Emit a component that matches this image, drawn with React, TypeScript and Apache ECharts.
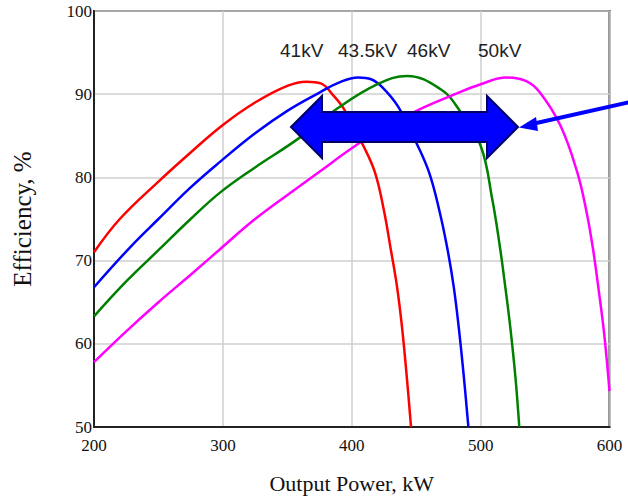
import React, { useEffect, useRef } from "react";
import * as echarts from "echarts";

const seriesNames = ["41kV", "43.5kV", "46kV", "50kV"];
const seriesColors = ["#ff0000", "#0000ff", "#008000", "#ff00ff"];

const red41: [number, number][] = [
  [200, 71], [220, 75], [250, 79.5], [275, 83], [300, 86.3], [325, 89], [350, 91],
  [365, 91.5], [376, 91.3], [386, 89.8], [394, 88.2], [409, 83.8], [418, 80.6],
  [425, 76], [430, 71.6], [435, 67], [439, 62], [443, 55.5], [446, 50],
];
const blue435: [number, number][] = [
  [200, 66.8], [228, 71.6], [250, 75], [275, 78.8], [298, 81.9], [325, 85.3], [350, 88],
  [375, 90.2], [390, 91.4], [405, 92], [415, 91.8], [424, 90.8], [436, 88.5], [450, 84.2],
  [460, 80.6], [468, 76], [474, 71.6], [479, 67], [483, 62], [487, 56], [490.5, 50],
];
const green46: [number, number][] = [
  [200, 63.3], [225, 67.5], [251, 71.4], [275, 75], [298, 78.2], [325, 81.2], [358, 84.6],
  [388, 88.2], [420, 91.2], [443, 92.2], [469, 90.6], [483, 88.2], [500, 83.8], [509, 77.4],
  [515, 71.6], [519, 67], [523, 62], [527, 56], [530, 50],
];
const magenta50: [number, number][] = [
  [200, 57.8], [225, 61.5], [250, 65], [275, 68.3], [298, 71.4], [325, 75], [360, 79],
  [376, 80.8], [400, 83.5], [425, 86], [453, 88.2], [477, 89.8], [500, 91.2], [520, 92],
  [535, 91.6], [546, 90.2], [562, 86.2], [575, 80.6], [582, 76], [587, 71.6], [592, 66],
  [596, 61], [600, 54.3],
];
const allSeries = [red41, blue435, green46, magenta50];

const xAxisTitle = "Output Power, kW";
const yAxisTitle = "Efficiency, %";

export default function App() {
  const ref = useRef<HTMLDivElement>(null);
  useEffect(() => {
    if (!ref.current) return;
    const chart = echarts.init(ref.current, null, { renderer: "svg" });
    const serif = "Liberation Serif";
    const sans = "Liberation Sans";
    const labelXs = [280, 338, 407, 478];
    chart.setOption({
      animation: false,
      backgroundColor: "#ffffff",
      grid: {
        left: 94,
        top: 11,
        width: 515.5,
        height: 416,
        show: true,
        borderColor: "#333333",
        borderWidth: 2,
        backgroundColor: "transparent",
      },
      xAxis: {
        type: "value",
        min: 200,
        max: 600,
        interval: 100,
        axisLine: { show: true, lineStyle: { color: "#222", width: 2 } },
        axisTick: { show: false },
        splitLine: { show: true, lineStyle: { color: "#cfcfcf", width: 1.5 } },
        axisLabel: { fontFamily: serif, fontSize: 17, color: "#111", margin: 10 },
        name: xAxisTitle,
        nameLocation: "middle",
        nameGap: 45,
        nameTextStyle: { fontFamily: serif, fontSize: 22, color: "#111" },
      },
      yAxis: {
        type: "value",
        min: 50,
        max: 100,
        interval: 10,
        axisLine: { show: true, lineStyle: { color: "#222", width: 2 } },
        axisTick: { show: false },
        splitLine: { show: true, lineStyle: { color: "#cfcfcf", width: 1.5 } },
        axisLabel: { fontFamily: serif, fontSize: 17, color: "#111", margin: 2 },
        name: yAxisTitle,
        nameLocation: "middle",
        nameGap: 59,
        nameRotate: 90,
        nameTextStyle: { fontFamily: serif, fontSize: 25, color: "#111", padding: [0, 0, 0, 0] },
      },
      series: allSeries.map((d, i) => ({
        type: "line",
        name: seriesNames[i],
        data: d,
        showSymbol: false,
        smooth: 0.4,
        lineStyle: { color: seriesColors[i], width: 2.5 },
        z: 3,
      })),
      graphic: [
        ...seriesNames.map((n, i) => ({
          type: "text",
          left: labelXs[i],
          top: 41,
          style: { text: n, fontFamily: sans, fontSize: 19, fill: "#222" },
          z: 10,
        })),
        {
          type: "polygon",
          shape: {
            points: [
              [291, 127], [322, 96], [322, 112], [487, 112], [487, 96], [518, 127],
              [487, 158], [487, 142], [322, 142], [322, 158],
            ],
          },
          style: { fill: "#0000ff", stroke: "#000066", lineWidth: 2 },
          z: 20,
        },
        {
          type: "line",
          shape: { x1: 630, y1: 102, x2: 532, y2: 124 },
          style: { stroke: "#0000ff", lineWidth: 4 },
          z: 20,
        },
        {
          type: "polygon",
          shape: { points: [[519, 127.5], [536, 117], [538, 131]] },
          style: { fill: "#0000ff" },
          z: 20,
        },
      ],
    });
    return () => chart.dispose();
  }, []);
  return (
    <div
      ref={ref}
      style={{ position: "fixed", left: 0, top: 0, width: 628, height: 499 }}
    />
  );
}
